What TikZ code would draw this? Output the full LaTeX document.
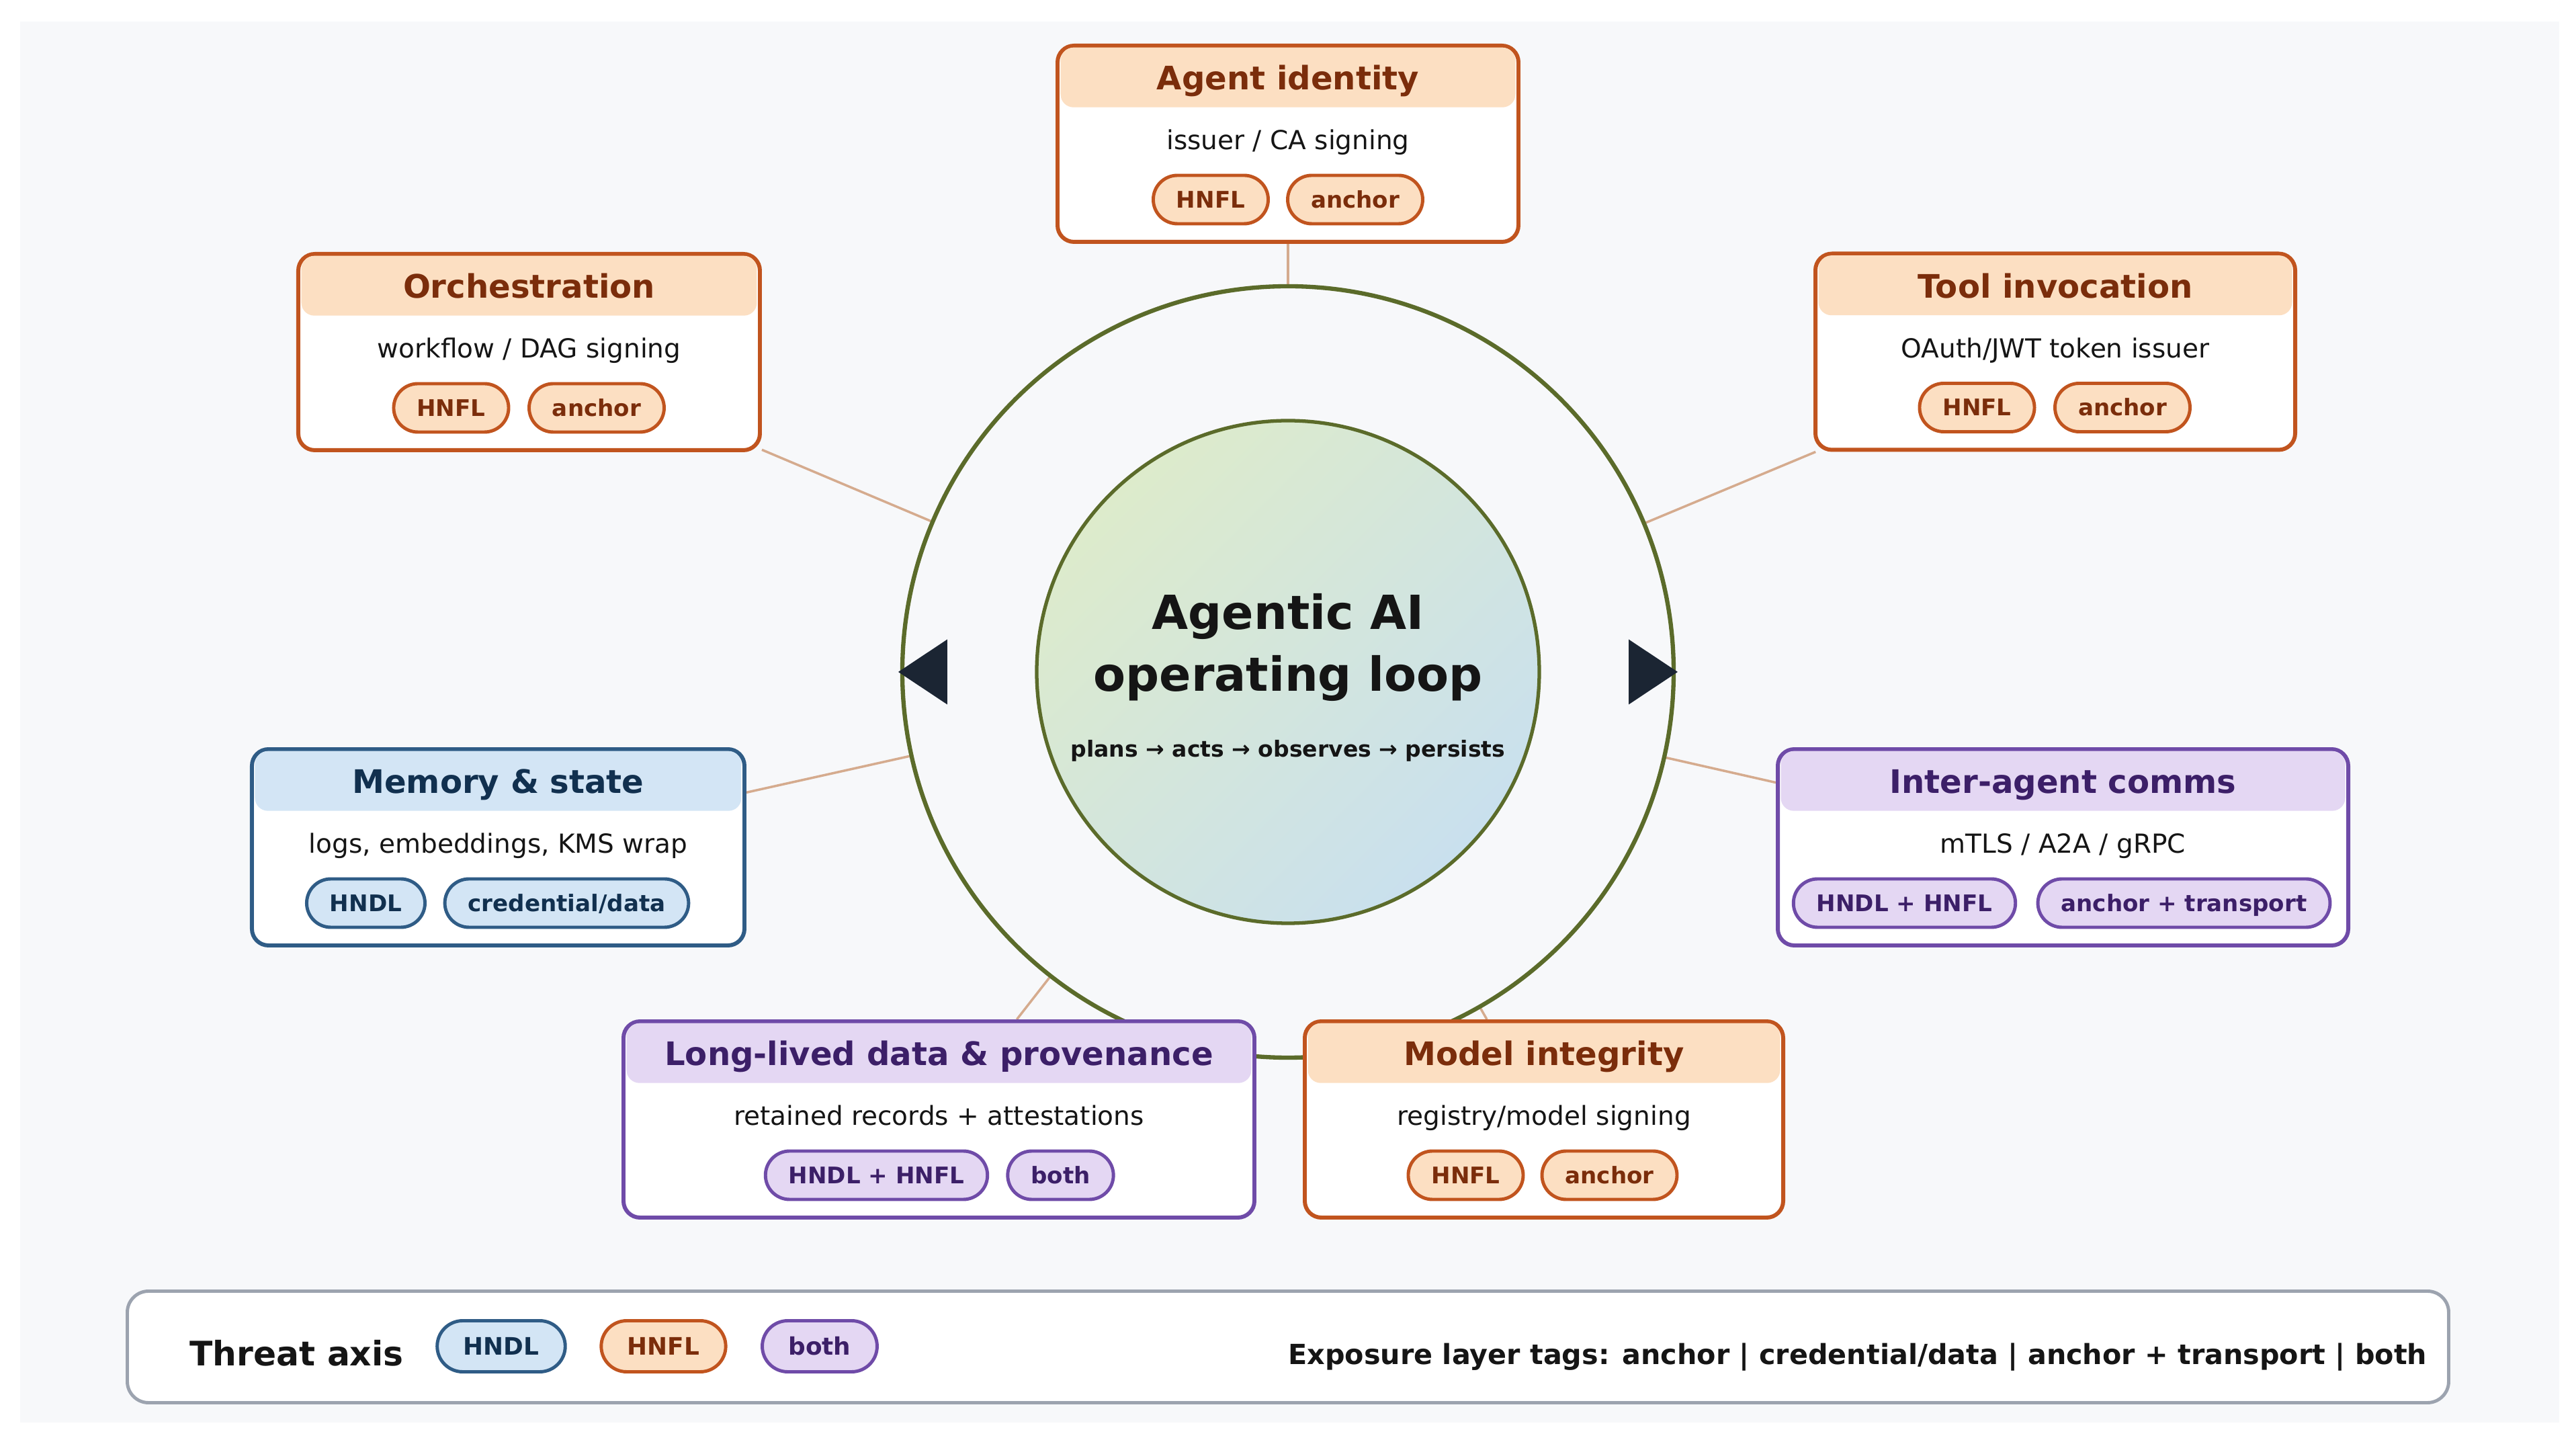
\documentclass[tikz,border=0pt]{standalone}
\usepackage{fontspec}
\setmainfont{DejaVu Sans}
\usepackage{tikz}
\usetikzlibrary{positioning, calc, backgrounds}
\definecolor{pagebg}{HTML}{F7F8FA}
\definecolor{hnfl}{HTML}{C1541E}
\definecolor{hnflbg}{HTML}{FCDFC2}
\definecolor{hnflink}{HTML}{7B2D0B}
\definecolor{hndl}{HTML}{2F5C86}
\definecolor{hndlbg}{HTML}{D3E5F5}
\definecolor{hndlink}{HTML}{11304F}
\definecolor{bothc}{HTML}{6F4BA8}
\definecolor{bothbg}{HTML}{E4D7F3}
\definecolor{bothink}{HTML}{3C1F68}
\definecolor{loopgreen}{HTML}{5B6B2A}
\definecolor{coretop}{HTML}{DDEBCB}
\definecolor{corebot}{HTML}{C9E0EE}
\definecolor{navy}{HTML}{1B2533}
\definecolor{linktan}{HTML}{D5AB8E}
\definecolor{legendgray}{HTML}{9CA3AF}
\definecolor{ink}{HTML}{151515}

\begin{document}
\begin{tikzpicture}[
    card/.style={draw, line width=1.7pt, rounded corners=7pt, fill=white, minimum height=2.92cm, inner sep=0pt},
    band/.style={minimum height=0.89cm, inner sep=0pt, rounded corners=5.5pt, text height=0.37cm, text depth=0pt, font=\fontsize{13.7}{16}\selectfont\bfseries},
    sub/.style={anchor=base, font=\fontsize{11.1}{13}\selectfont, text=ink},
    pill/.style={draw, line width=1.4pt, rounded corners=0.36cm, minimum height=0.72cm, inner xsep=0.345cm, inner ysep=0pt, text height=0.25cm, text depth=0pt, font=\fontsize{9.7}{11}\selectfont\bfseries},
    keypill/.style={minimum height=0.76cm, rounded corners=0.38cm, inner xsep=0.39cm, text height=0.26cm, font=\fontsize{10.2}{12}\selectfont\bfseries},
    hnflcard/.style={card, draw=hnfl}, hnflband/.style={band, fill=hnflbg, text=hnflink}, hnflpill/.style={pill, draw=hnfl, fill=hnflbg, text=hnflink},
    hndlcard/.style={card, draw=hndl}, hndlband/.style={band, fill=hndlbg, text=hndlink}, hndlpill/.style={pill, draw=hndl, fill=hndlbg, text=hndlink},
    bothcard/.style={card, draw=bothc}, bothband/.style={band, fill=bothbg, text=bothink}, bothpill/.style={pill, draw=bothc, fill=bothbg, text=bothink},
    link/.style={draw=linktan, line width=1pt}
]
    \useasboundingbox (-19.17,10.00) rectangle (19.17,-11.43);

    % the loop in the middle
    \node[circle, draw=loopgreen, line width=1.8pt, minimum size=11.48cm, inner sep=0pt] (ring) at (0,0) {};
    \node[circle, draw=loopgreen, line width=1.5pt, minimum size=7.48cm, inner sep=0pt, top color=coretop, bottom color=corebot, shading angle=45] (core) at (0,0) {};
    \node[font=\fontsize{19.9}{24}\selectfont\bfseries, text=ink, anchor=base] (coreA) at (0,0.63) {Agentic AI};
    \node[font=\fontsize{19.9}{24}\selectfont\bfseries, text=ink, anchor=base] (coreB) at (0,-0.29) {operating loop};
    \node[font=\fontsize{9.4}{11}\selectfont\bfseries, text=ink, anchor=base] (coreC) at (0,-1.27) {plans → acts → observes → persists};
    \foreach \s in {-1,1}
        \fill[navy] (\s*5.07,0.485) -- (\s*5.80,0) -- (\s*5.07,-0.485) -- cycle;

    % Agent identity
    \node[hnflcard, minimum width=6.86cm] (ident) at (0,7.86) {};
    \node[hnflband, minimum width=6.77cm, below=0.05cm of ident.north] (identT) {Agent identity};
    \node[sub] (identS) at (0,7.77) {issuer / CA signing};
    \node[hnflpill] (identA) at (-1.15,7.03) {HNFL};
    \node[hnflpill] (identB) at (1.00,7.03) {anchor};

    % Orchestration
    \node[hnflcard, minimum width=6.87cm] (orch) at (-11.295,4.76) {};
    \node[hnflband, minimum width=6.78cm, below=0.05cm of orch.north] (orchT) {Orchestration};
    \node[sub] (orchS) at (-11.295,4.67) {workflow / DAG signing};
    \node[hnflpill] (orchA) at (-12.455,3.93) {HNFL};
    \node[hnflpill] (orchB) at (-10.29,3.93) {anchor};

    % Tool invocation
    \node[hnflcard, minimum width=7.14cm] (tool) at (11.42,4.765) {};
    \node[hnflband, minimum width=7.05cm, below=0.05cm of tool.north] (toolT) {Tool invocation};
    \node[sub] (toolS) at (11.42,4.675) {OAuth/JWT token issuer};
    \node[hnflpill] (toolA) at (10.255,3.935) {HNFL};
    \node[hnflpill] (toolB) at (12.42,3.935) {anchor};

    % Memory & state
    \node[hndlcard, minimum width=7.33cm] (mem) at (-11.755,-2.61) {};
    \node[hndlband, minimum width=7.24cm, below=0.05cm of mem.north] (memT) {Memory \& state};
    \node[sub] (memS) at (-11.755,-2.70) {logs, embeddings, KMS wrap};
    \node[hndlpill] (memA) at (-13.725,-3.44) {HNDL};
    \node[hndlpill] (memB) at (-10.735,-3.44) {credential/data};

    % Inter-agent comms
    \node[bothcard, minimum width=8.49cm] (comms) at (11.535,-2.61) {};
    \node[bothband, minimum width=8.40cm, below=0.05cm of comms.north] (commsT) {Inter-agent comms};
    \node[sub] (commsS) at (11.535,-2.70) {mTLS / A2A / gRPC};
    \node[bothpill] (commsA) at (9.175,-3.44) {HNDL + HNFL};
    \node[bothpill] (commsB) at (13.335,-3.44) {anchor + transport};

    % Long-lived data & provenance
    \node[bothcard, minimum width=9.39cm] (prov) at (-5.195,-6.66) {};
    \node[bothband, minimum width=9.30cm, below=0.05cm of prov.north] (provT) {Long-lived data \& provenance};
    \node[sub] (provS) at (-5.195,-6.75) {retained records + attestations};
    \node[bothpill] (provA) at (-6.125,-7.49) {HNDL + HNFL};
    \node[bothpill] (provB) at (-3.385,-7.49) {both};

    % Model integrity
    \node[hnflcard, minimum width=7.12cm] (model) at (3.81,-6.66) {};
    \node[hnflband, minimum width=7.03cm, below=0.05cm of model.north] (modelT) {Model integrity};
    \node[sub] (modelS) at (3.81,-6.75) {registry/model signing};
    \node[hnflpill] (modelA) at (2.645,-7.49) {HNFL};
    \node[hnflpill] (modelB) at (4.785,-7.49) {anchor};

    % spokes from the ring to every card
    \begin{scope}[on background layer]
        \fill[pagebg] (-18.87,9.68) rectangle (18.92,-11.17);
        \foreach \c in {ident, orch, tool, mem, comms, prov, model}
            \draw[link] (ring) -- (\c);
    \end{scope}

    % legend
    \node[draw=legendgray, line width=1.4pt, rounded corners=9pt, fill=white, minimum width=34.55cm, minimum height=1.66cm] (legend) at (0,-10.045) {};
    \node[font=\fontsize{14.3}{17}\selectfont\bfseries, text=ink, inner sep=0pt, anchor=base west] (axis) at (-16.35,-10.32) {Threat axis};
    \node[hndlpill, keypill] (keyA) at (-11.71,-10.035) {HNDL};
    \node[hnflpill, keypill] (keyB) at (-9.295,-10.035) {HNFL};
    \node[bothpill, keypill] (keyC) at (-6.97,-10.035) {both};
    \node[font=\fontsize{11.75}{14}\selectfont\bfseries, text=ink, inner sep=0pt, anchor=base east] (expo) at (16.96,-10.30) {Exposure layer tags: anchor | credential/data | anchor + transport | both};
\end{tikzpicture}
\end{document}
